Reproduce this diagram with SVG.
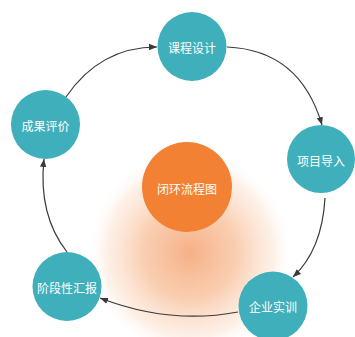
<svg xmlns="http://www.w3.org/2000/svg" width="355" height="337" viewBox="0 0 355 337">
<style>
.node{fill:#3FAFBB}
.lbl{font-family:"Noto Sans CJK SC","Liberation Sans",sans-serif;font-size:12px;fill:#ffffff;text-anchor:middle;dominant-baseline:central}
.conn{fill:none;stroke:#3a3a3a;stroke-width:1.2}
</style>
<defs>
<radialGradient id="glow" cx="190" cy="253" r="104" gradientUnits="userSpaceOnUse">
<stop offset="0" stop-color="#F6B086" stop-opacity="1"/>
<stop offset="0.45" stop-color="#F8C29E" stop-opacity="0.8"/>
<stop offset="0.8" stop-color="#FBDDC8" stop-opacity="0.45"/>
<stop offset="1" stop-color="#ffffff" stop-opacity="0"/>
</radialGradient>
<marker id="arr" viewBox="0 0 10 10" refX="10" refY="5" markerWidth="8" markerHeight="8" markerUnits="userSpaceOnUse" orient="auto">
<path d="M0,1 L10,5 L0,9 Z" fill="#3a3a3a"/>
</marker>
</defs>
<rect width="355" height="337" fill="#ffffff"/>
<ellipse cx="190" cy="253" rx="104" ry="100" fill="url(#glow)"/>
<g id="connectors">
<path class="conn" d="M66,97 Q100,47 157,47" marker-end="url(#arr)"/>
<path class="conn" d="M227,47 Q300,50 322,125" marker-end="url(#arr)"/>
<path class="conn" d="M325,198 Q322,250 293,277" marker-end="url(#arr)"/>
<path class="conn" d="M238,312 Q170,325 100,298" marker-end="url(#arr)"/>
<path class="conn" d="M67,252 Q38,215 44,159" marker-end="url(#arr)"/>
</g>
<g id="center">
<circle cx="187" cy="187" r="45" fill="#F28133"/>
<text class="lbl" x="187" y="188">闭环流程图</text>
</g>
<g id="n1">
<circle class="node" cx="192" cy="46.5" r="34.5"/>
<text class="lbl" x="192" y="47">课程设计</text>
</g>
<g id="n2">
<circle class="node" cx="321" cy="159" r="34"/>
<text class="lbl" x="321" y="160">项目导入</text>
</g>
<g id="n3">
<circle class="node" cx="273" cy="306" r="34.5"/>
<text class="lbl" x="273" y="306">企业实训</text>
</g>
<g id="n4">
<circle class="node" cx="67" cy="286.5" r="34.5"/>
<text class="lbl" x="67" y="287">阶段性汇报</text>
</g>
<g id="n5">
<circle class="node" cx="45.5" cy="124.5" r="34.5"/>
<text class="lbl" x="45.5" y="125">成果评价</text>
</g>
</svg>
